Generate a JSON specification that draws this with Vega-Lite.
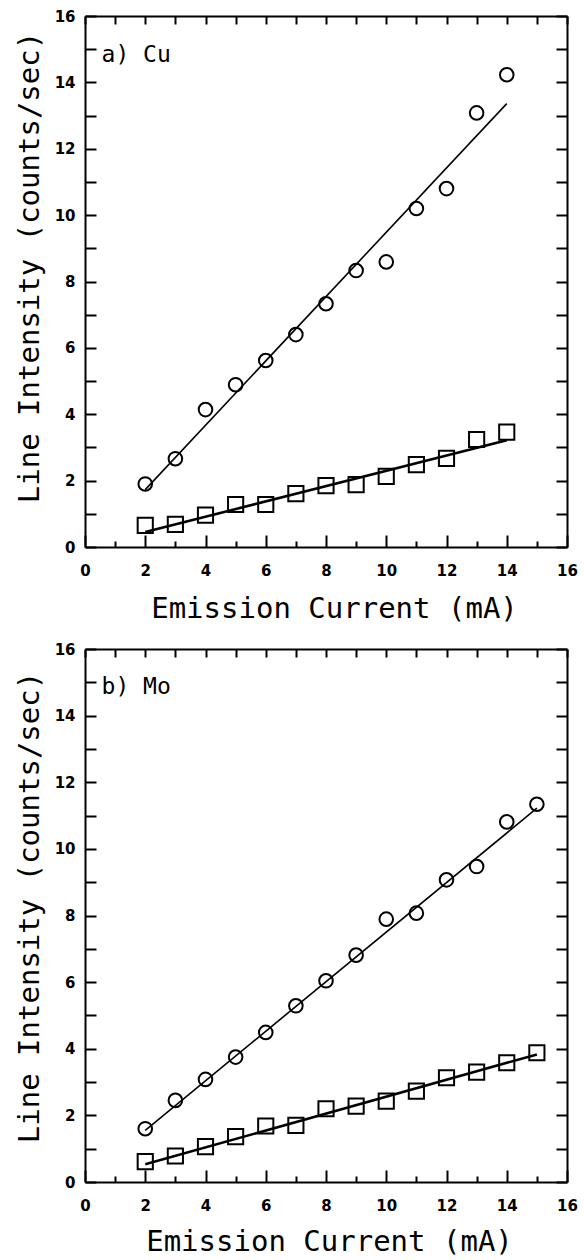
{
  "$schema": "https://vega.github.io/schema/vega-lite/v6.json",
  "padding": {"left": 15, "top": 9, "right": 5, "bottom": 0},
  "spacing": 19,
  "background": "white",
  "datasets": {
    "cu": [
      {"x": 2, "y": 1.90, "marker": "circle"}, {"x": 3, "y": 2.66, "marker": "circle"}, {"x": 4, "y": 4.14, "marker": "circle"},
      {"x": 5, "y": 4.89, "marker": "circle"}, {"x": 6, "y": 5.62, "marker": "circle"}, {"x": 7, "y": 6.40, "marker": "circle"},
      {"x": 8, "y": 7.33, "marker": "circle"}, {"x": 9, "y": 8.33, "marker": "circle"}, {"x": 10, "y": 8.59, "marker": "circle"},
      {"x": 11, "y": 10.2, "marker": "circle"}, {"x": 12, "y": 10.8, "marker": "circle"}, {"x": 13, "y": 13.08, "marker": "circle"},
      {"x": 14, "y": 14.23, "marker": "circle"},
      {"x": 2, "y": 0.65, "marker": "square"}, {"x": 3, "y": 0.68, "marker": "square"}, {"x": 4, "y": 0.96, "marker": "square"},
      {"x": 5, "y": 1.28, "marker": "square"}, {"x": 6, "y": 1.28, "marker": "square"}, {"x": 7, "y": 1.61, "marker": "square"},
      {"x": 8, "y": 1.85, "marker": "square"}, {"x": 9, "y": 1.88, "marker": "square"}, {"x": 10, "y": 2.13, "marker": "square"},
      {"x": 11, "y": 2.48, "marker": "square"}, {"x": 12, "y": 2.67, "marker": "square"}, {"x": 13, "y": 3.24, "marker": "square"},
      {"x": 14, "y": 3.46, "marker": "square"}
    ],
    "cuFit": [
      {"x": 2, "y": 1.73, "marker": "circle"}, {"x": 14, "y": 13.36, "marker": "circle"},
      {"x": 2, "y": 0.45, "marker": "square"}, {"x": 14, "y": 3.22, "marker": "square"}
    ],
    "mo": [
      {"x": 2, "y": 1.60, "marker": "circle"}, {"x": 3, "y": 2.45, "marker": "circle"}, {"x": 4, "y": 3.08, "marker": "circle"},
      {"x": 5, "y": 3.75, "marker": "circle"}, {"x": 6, "y": 4.49, "marker": "circle"}, {"x": 7, "y": 5.29, "marker": "circle"},
      {"x": 8, "y": 6.04, "marker": "circle"}, {"x": 9, "y": 6.81, "marker": "circle"}, {"x": 10, "y": 7.89, "marker": "circle"},
      {"x": 11, "y": 8.07, "marker": "circle"}, {"x": 12, "y": 9.07, "marker": "circle"}, {"x": 13, "y": 9.47, "marker": "circle"},
      {"x": 14, "y": 10.81, "marker": "circle"}, {"x": 15, "y": 11.34, "marker": "circle"},
      {"x": 2, "y": 0.61, "marker": "square"}, {"x": 3, "y": 0.78, "marker": "square"}, {"x": 4, "y": 1.06, "marker": "square"},
      {"x": 5, "y": 1.36, "marker": "square"}, {"x": 6, "y": 1.68, "marker": "square"}, {"x": 7, "y": 1.70, "marker": "square"},
      {"x": 8, "y": 2.20, "marker": "square"}, {"x": 9, "y": 2.28, "marker": "square"}, {"x": 10, "y": 2.43, "marker": "square"},
      {"x": 11, "y": 2.73, "marker": "square"}, {"x": 12, "y": 3.13, "marker": "square"}, {"x": 13, "y": 3.30, "marker": "square"},
      {"x": 14, "y": 3.58, "marker": "square"}, {"x": 15, "y": 3.88, "marker": "square"}
    ],
    "moFit": [
      {"x": 2, "y": 1.55, "marker": "circle"}, {"x": 15, "y": 11.22, "marker": "circle"},
      {"x": 2, "y": 0.53, "marker": "square"}, {"x": 15, "y": 3.83, "marker": "square"}
    ]
  },
  "vconcat": [
    {
      "width": 482,
      "height": 531,
      "resolve": {"axis": {"x": "independent", "y": "independent"}},
      "layer": [
        {
          "data": {"name": "cu"},
          "mark": {"type": "point", "filled": false, "color": "black", "strokeWidth": 2, "opacity": 1},
          "encoding": {
            "x": {"field": "x", "type": "quantitative", "scale": {"domain": [0, 16], "nice": false},
              "axis": {"orient": "bottom", "values": [0,1,2,3,4,5,6,7,8,9,10,11,12,13,14,15,16],
                "labelExpr": "datum.value % 2 === 0 ? datum.label : ''",
                "tickSize": {"condition": {"test": "datum.value % 2 === 0", "value": -12}, "value": -6},
                "labelPadding": 28, "title": "Emission Current (mA)", "titlePadding": 10, "titleX": 249}},
            "y": {"field": "y", "type": "quantitative", "scale": {"domain": [0, 16], "nice": false},
              "axis": {"orient": "left", "values": [0,1,2,3,4,5,6,7,8,9,10,11,12,13,14,15,16],
                "labelExpr": "datum.value % 2 === 0 ? datum.label : ''",
                "tickSize": -11, "labelPadding": 21, "title": "Line Intensity (counts/sec)", "titlePadding": 10, "titleY": 251}},
            "shape": {"field": "marker", "type": "nominal", "scale": {"domain": ["circle", "square"], "range": ["circle", "square"]}, "legend": null},
            "size": {"field": "marker", "type": "nominal", "scale": {"domain": ["circle", "square"], "range": [185, 230]}, "legend": null}
          }
        },
        {
          "data": {"name": "cuFit"},
          "mark": {"type": "line", "color": "black"},
          "encoding": {
            "x": {"field": "x", "type": "quantitative", "scale": {"domain": [0, 16], "nice": false},
              "axis": {"orient": "top", "values": [0,1,2,3,4,5,6,7,8,9,10,11,12,13,14,15,16], "labels": false, "tickSize": -8, "title": null}},
            "y": {"field": "y", "type": "quantitative", "scale": {"domain": [0, 16], "nice": false},
              "axis": {"orient": "right", "values": [0,1,2,3,4,5,6,7,8,9,10,11,12,13,14,15,16], "labels": false, "tickSize": -11, "title": null}},
            "detail": {"field": "marker", "type": "nominal"},
            "strokeWidth": {"field": "marker", "type": "nominal", "scale": {"domain": ["circle", "square"], "range": [1.6, 2.6]}, "legend": null}
          }
        },
        {
          "data": {"values": [{"label": "a)  Cu"}]},
          "mark": {"type": "text", "align": "left", "baseline": "alphabetic", "font": "DejaVu Sans Mono", "fontSize": 23, "color": "black"},
          "encoding": {
            "x": {"datum": 0.55, "type": "quantitative", "scale": {"domain": [0, 16], "nice": false}, "axis": null},
            "y": {"datum": 14.6, "type": "quantitative", "scale": {"domain": [0, 16], "nice": false}, "axis": null},
            "text": {"field": "label"}
          }
        }
      ]
    },
    {
      "width": 482,
      "height": 533,
      "resolve": {"axis": {"x": "independent", "y": "independent"}},
      "layer": [
        {
          "data": {"name": "mo"},
          "mark": {"type": "point", "filled": false, "color": "black", "strokeWidth": 2, "opacity": 1},
          "encoding": {
            "x": {"field": "x", "type": "quantitative", "scale": {"domain": [0, 16], "nice": false},
              "axis": {"orient": "bottom", "values": [0,1,2,3,4,5,6,7,8,9,10,11,12,13,14,15,16],
                "labelExpr": "datum.value % 2 === 0 ? datum.label : ''",
                "tickSize": {"condition": {"test": "datum.value % 2 === 0", "value": -12}, "value": -6},
                "labelPadding": 28, "title": "Emission Current (mA)", "titlePadding": 8, "titleX": 244}},
            "y": {"field": "y", "type": "quantitative", "scale": {"domain": [0, 16], "nice": false},
              "axis": {"orient": "left", "values": [0,1,2,3,4,5,6,7,8,9,10,11,12,13,14,15,16],
                "labelExpr": "datum.value % 2 === 0 ? datum.label : ''",
                "tickSize": -11, "labelPadding": 21, "title": "Line Intensity (counts/sec)", "titlePadding": 10, "titleY": 258}},
            "shape": {"field": "marker", "type": "nominal", "scale": {"domain": ["circle", "square"], "range": ["circle", "square"]}, "legend": null},
            "size": {"field": "marker", "type": "nominal", "scale": {"domain": ["circle", "square"], "range": [185, 230]}, "legend": null}
          }
        },
        {
          "data": {"name": "moFit"},
          "mark": {"type": "line", "color": "black"},
          "encoding": {
            "x": {"field": "x", "type": "quantitative", "scale": {"domain": [0, 16], "nice": false},
              "axis": {"orient": "top", "values": [0,1,2,3,4,5,6,7,8,9,10,11,12,13,14,15,16], "labels": false, "tickSize": -8, "title": null}},
            "y": {"field": "y", "type": "quantitative", "scale": {"domain": [0, 16], "nice": false},
              "axis": {"orient": "right", "values": [0,1,2,3,4,5,6,7,8,9,10,11,12,13,14,15,16], "labels": false, "tickSize": -11, "title": null}},
            "detail": {"field": "marker", "type": "nominal"},
            "strokeWidth": {"field": "marker", "type": "nominal", "scale": {"domain": ["circle", "square"], "range": [1.6, 2.6]}, "legend": null}
          }
        },
        {
          "data": {"values": [{"label": "b)  Mo"}]},
          "mark": {"type": "text", "align": "left", "baseline": "alphabetic", "font": "DejaVu Sans Mono", "fontSize": 23, "color": "black"},
          "encoding": {
            "x": {"datum": 0.55, "type": "quantitative", "scale": {"domain": [0, 16], "nice": false}, "axis": null},
            "y": {"datum": 14.65, "type": "quantitative", "scale": {"domain": [0, 16], "nice": false}, "axis": null},
            "text": {"field": "label"}
          }
        }
      ]
    }
  ],
  "config": {
    "view": {"stroke": null},
    "axis": {
      "grid": false,
      "domainColor": "black",
      "domainWidth": 2,
      "tickColor": "black",
      "tickWidth": 2,
      "labelColor": "black",
      "labelFont": "DejaVu Sans",
      "labelFontSize": 15,
      "labelFontWeight": "bold",
      "labelFlush": false,
      "labelOverlap": false,
      "titleColor": "black",
      "titleFont": "DejaVu Sans Mono",
      "titleFontSize": 29,
      "titleFontWeight": "normal"
    }
  }
}
